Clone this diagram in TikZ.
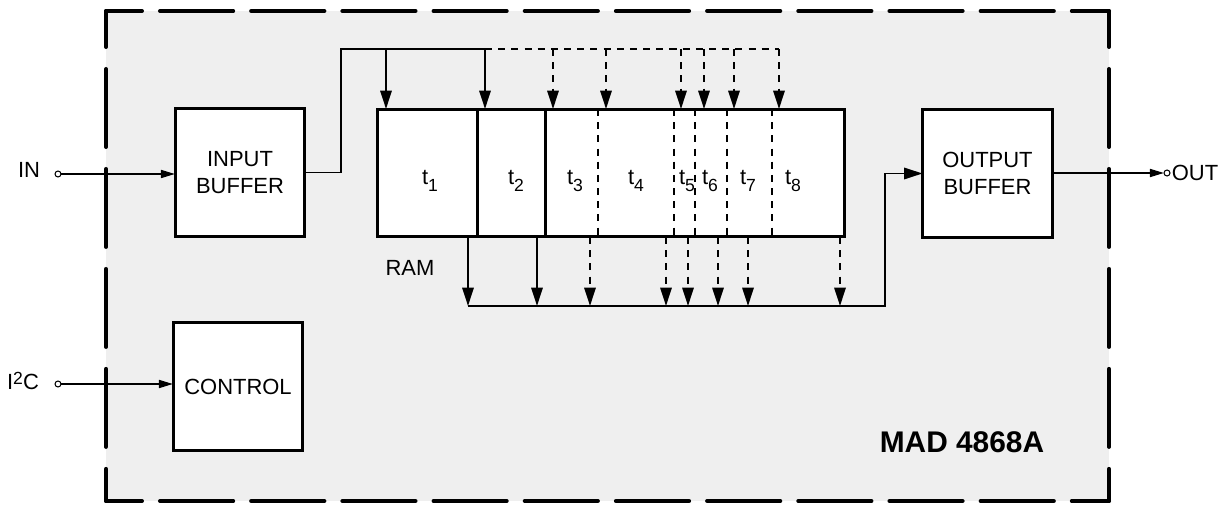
\documentclass[tikz,border=0pt]{standalone}
\usepackage{fontspec}
\setmainfont{Liberation Sans}
\usetikzlibrary{arrows.meta}
\definecolor{bg}{HTML}{EFEFEF}
\newcommand{\tsub}[1]{t\raisebox{-4pt}{\fontsize{10}{12}\selectfont #1}}
\begin{document}
\begin{tikzpicture}[x=0.02cm,y=-0.02cm,
  box/.style={draw, line width=1.7pt, fill=white, minimum width=2.6cm, minimum height=2.58cm,
    inner sep=0pt, outer sep=0pt, font=\fontsize{12.5}{15.3}\selectfont, align=center},
  wire/.style={line width=1.1pt},
  dwire/.style={wire, dash pattern=on 4pt off 3.5pt},
  arr/.style={-{Triangle[length=10.5pt,width=6.5pt]}},
  sarr/.style={-{Triangle[length=8pt,width=4.5pt]}},
  border/.style={line width=2.27pt, line cap=round},
  term/.style={circle, draw, line width=0.6pt, fill=white, minimum size=3.4pt, inner sep=0pt, outer sep=0pt},
  lbl/.style={font=\fontsize{12.5}{15}\selectfont, inner sep=0pt},
]
\useasboundingbox (0,0) rectangle (1223,506);
% background and dashed border
\fill[bg] (106,11) rectangle (1109,501);
\draw[border, dash pattern=on 1.464cm off 0.36cm, dash phase=0.744cm] (106,11) -- (1109,11);
\draw[border, dash pattern=on 1.464cm off 0.36cm, dash phase=0.744cm] (106,501) -- (1109,501);
\draw[border, dash pattern=on 1.56cm off 0.44cm, dash phase=0.84cm] (106,11) -- (106,501);
\draw[border, dash pattern=on 1.56cm off 0.44cm, dash phase=0.84cm] (1109,11) -- (1109,501);

% blocks
\node[box] (inbuf) at (240,172.5) {INPUT\\BUFFER};
\node[box] (ctrl) at (238,386.5) {CONTROL};
\node[box] (outbuf) at (987.5,173.5) {OUTPUT\\BUFFER};
\node[box, minimum width=9.36cm, minimum height=2.56cm] (ram) at (611,173) {};

% RAM dividers
\foreach \x in {477,545} {
  \coordinate (d) at (\x,173);
  \draw[line width=1.7pt] (d |- ram.north) -- (d |- ram.south);
}
\foreach \x in {598,674,695,727,772} {
  \coordinate (d) at (\x,173);
  \draw[line width=1.1pt, dash pattern=on 4pt off 3.5pt] (d |- ram.north) -- (d |- ram.south);
}

% slot labels
\foreach \x/\n in {430/1,516/2,575/3,636/4,687/5,710/6,748/7,793/8} {
  \node[lbl] (t\n) at (\x,181) {\tsub{\n}};
}
\node[lbl] (ramlbl) at (410,268) {RAM};

% terminals and external labels
\node[term] (inT) at (58,174) {};
\node[term] (i2cT) at (58,384) {};
\node[term] (outT) at (1167,173) {};
\node[lbl] (inlbl) at (29,170) {IN};
\node[lbl] (i2clbl) at (23,381) {I\raisebox{3pt}{\fontsize{10}{12}\selectfont 2}C};
\node[lbl] (outlbl) at (1195,173) {OUT};
\node[inner sep=0pt, font=\bfseries\fontsize{17}{20}\selectfont] (mad) at (962,442) {MAD 4868A};

\draw[wire, sarr] (inT) -- (inT -| inbuf.west);
\draw[wire, sarr] (i2cT) -- (i2cT -| ctrl.west);
\draw[wire, sarr] (outT -| outbuf.east) -- (outT);

% write bus (top)
\coordinate (tl) at (341,49);
\coordinate (a1) at (386,49);
\coordinate (a2) at (485,49);
\coordinate (a3) at (553,49);
\coordinate (a4) at (606,49);
\coordinate (a5) at (681,49);
\coordinate (a6) at (704,49);
\coordinate (a7) at (734,49);
\coordinate (a8) at (779,49);
\draw[wire] (inbuf.east) -| (tl) -- (a2);
\draw[dwire] (a2) -- (a8);
\draw[wire, arr] (a1) -- (a1 |- ram.north);
\draw[wire, arr] (a2) -- (a2 |- ram.north);
\foreach \i in {3,...,8} {
  \draw[dwire, arr] (a\i) -- (a\i |- ram.north);
}

% read bus (bottom)
\coordinate (b1) at (468,306);
\coordinate (b2) at (537,306);
\coordinate (b3) at (590,306);
\coordinate (b4) at (666,306);
\coordinate (b5) at (688,306);
\coordinate (b6) at (718,306);
\coordinate (b7) at (748,306);
\coordinate (b8) at (840,306);
\coordinate (bc) at (885,306);
\draw[wire, arr] (b1) -- (bc) |- (outbuf.west);
\draw[wire, arr] (b1 |- ram.south) -- (b1);
\draw[wire, arr] (b2 |- ram.south) -- (b2);
\foreach \i in {3,...,8} {
  \draw[dwire, arr] (b\i |- ram.south) -- (b\i);
}
\end{tikzpicture}
\end{document}
